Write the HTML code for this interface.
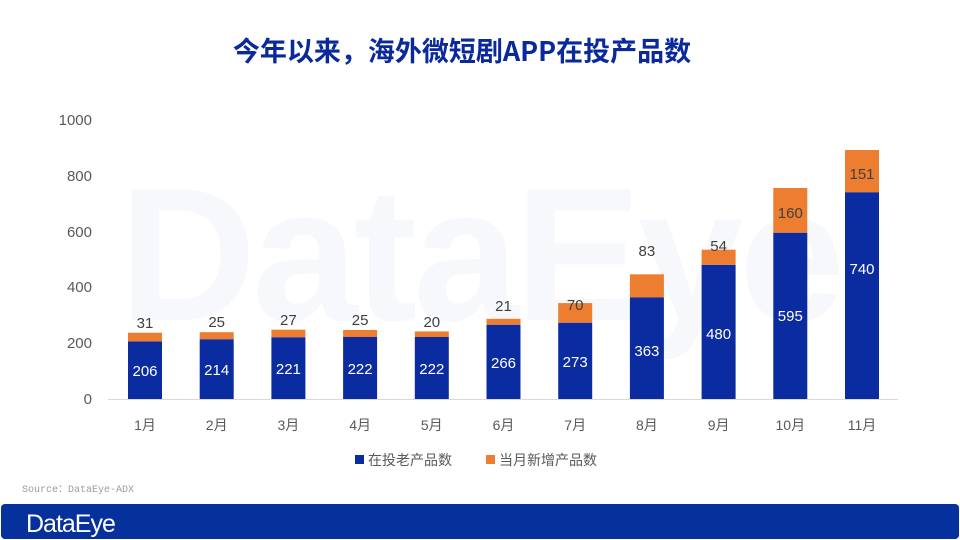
<!DOCTYPE html><html><head><meta charset="utf-8"><style>body{margin:0;background:#fff}svg{display:block}</style></head><body>
<svg width="960" height="540" xmlns="http://www.w3.org/2000/svg" font-family="Liberation Sans, Noto Sans CJK SC, sans-serif">
<rect width="960" height="540" fill="#fff"/>
<text x="462" y="61" text-anchor="middle" font-size="27" font-weight="bold" fill="#0a2a9c" font-family="Noto Sans CJK SC, sans-serif">今年以来，海外微短剧APP在投产品数</text>
<text x="480" y="320" text-anchor="middle" font-size="190" font-weight="bold" fill="#f6f8fc" letter-spacing="-4">DataEye</text>
<g font-size="15" fill="#595959" text-anchor="end">
<text x="92" y="125">1000</text><text x="92" y="181">800</text><text x="92" y="237">600</text><text x="92" y="292">400</text><text x="92" y="348">200</text><text x="92" y="404">0</text></g>
<line x1="108" y1="399.5" x2="898" y2="399.5" stroke="#d9d9d9"/>
<g fill="#0b2ca1">
<rect x="128" y="341.4" width="34" height="57.6"/>
<rect x="199.7" y="339.2" width="34" height="59.8"/>
<rect x="271.4" y="337.2" width="34" height="61.8"/>
<rect x="343.1" y="337" width="34" height="62"/>
<rect x="414.8" y="337" width="34" height="62"/>
<rect x="486.5" y="324.7" width="34" height="74.3"/>
<rect x="558.2" y="322.7" width="34" height="76.3"/>
<rect x="629.9" y="297.5" width="34" height="101.5"/>
<rect x="701.6" y="264.8" width="34" height="134.2"/>
<rect x="773.3" y="232.7" width="34" height="166.3"/>
<rect x="845" y="192.2" width="34" height="206.8"/>
</g>
<g fill="#ed7d31">
<rect x="128" y="332.7" width="34" height="8.7"/>
<rect x="199.7" y="332.2" width="34" height="7"/>
<rect x="271.4" y="329.7" width="34" height="7.5"/>
<rect x="343.1" y="330" width="34" height="7"/>
<rect x="414.8" y="331.4" width="34" height="5.6"/>
<rect x="486.5" y="318.8" width="34" height="5.9"/>
<rect x="558.2" y="303.1" width="34" height="19.6"/>
<rect x="629.9" y="274.3" width="34" height="23.2"/>
<rect x="701.6" y="249.7" width="34" height="15.1"/>
<rect x="773.3" y="188" width="34" height="44.7"/>
<rect x="845" y="150" width="34" height="42.2"/>
</g>
<g font-size="15" fill="#fff" text-anchor="middle">
<text x="145" y="376">206</text><text x="216.7" y="375">214</text><text x="288.4" y="374">221</text><text x="360.1" y="374">222</text><text x="431.8" y="374">222</text><text x="503.5" y="368">266</text><text x="575.2" y="367">273</text><text x="646.9" y="356">363</text><text x="718.6" y="339">480</text><text x="790.3" y="321">595</text><text x="862" y="274">740</text>
</g>
<g font-size="15" fill="#404040" text-anchor="middle">
<text x="145" y="328">31</text><text x="216.7" y="327">25</text><text x="288.4" y="325">27</text><text x="360.1" y="325">25</text><text x="431.8" y="327">20</text><text x="503.5" y="311">21</text><text x="575.2" y="310">70</text><text x="646.9" y="256">83</text><text x="718.6" y="251">54</text><text x="790.3" y="218">160</text><text x="862" y="179">151</text>
</g>
<g font-size="14" fill="#595959" text-anchor="middle">
<text x="145" y="430">1月</text><text x="216.7" y="430">2月</text><text x="288.4" y="430">3月</text><text x="360.1" y="430">4月</text><text x="431.8" y="430">5月</text><text x="503.5" y="430">6月</text><text x="575.2" y="430">7月</text><text x="646.9" y="430">8月</text><text x="718.6" y="430">9月</text><text x="790.3" y="430">10月</text><text x="862" y="430">11月</text>
</g>
<rect x="355" y="455" width="9" height="9" fill="#0b2ca1"/>
<text x="368" y="465" font-size="14" fill="#595959">在投老产品数</text>
<rect x="486" y="455" width="9" height="9" fill="#ed7d31"/>
<text x="499" y="465" font-size="14" fill="#595959">当月新增产品数</text>
<text x="22" y="492" font-size="10" fill="#9a9a9a" font-family="Liberation Mono, monospace">Source：DataEye-ADX</text>
<rect x="1" y="504" width="958" height="35" rx="4" fill="#06309c"/>
<text x="26" y="532" font-size="25" fill="#fff" letter-spacing="-1">DataEye</text>
</svg></body></html>
